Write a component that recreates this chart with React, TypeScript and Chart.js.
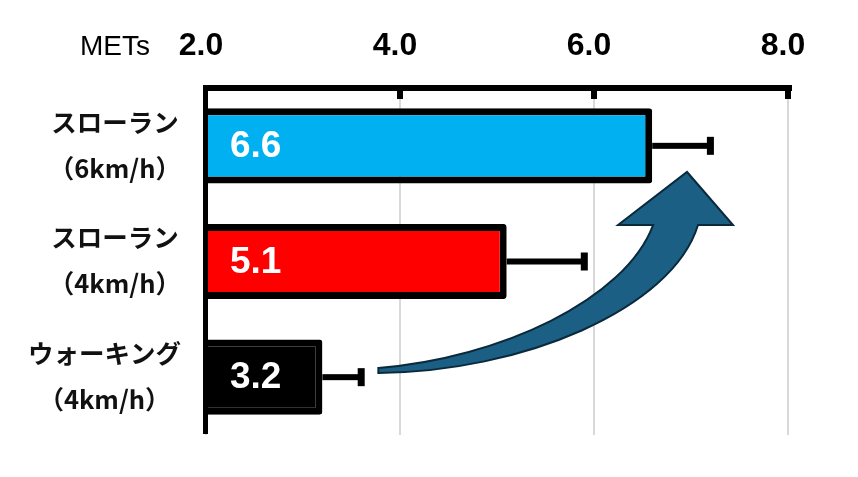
import React, { useEffect, useRef } from "react";
import { Chart, registerables } from "chart.js";

Chart.register(...registerables);

const categoryLines: string[][] = [
  ["スローラン", "（6km/h）"],
  ["スローラン", "（4km/h）"],
  ["ウォーキング", "（4km/h）"],
];
const categories = ["スローラン（6km/h）", "スローラン（4km/h）", "ウォーキング（4km/h）"];
const metsValues = [6.6, 5.1, 3.2];
const errorValues = [0.6, 0.8, 0.4];
const barColors = ["#00B0F0", "#FF0000", "#000000"];
const axisTitle = "METs";
const xMin = 2;
const xMax = 8;
const xStep = 2;

// arrow annotation in data units: [value, category index]
const arrowUpper: number[][] = [
  [3.777, 1.92],
  [5.033, 1.834],
  [6.32, 1.333],
  [6.609, 0.685],
];
const arrowHead: number[][] = [
  [6.248, 0.685],
  [6.959, 0.226],
  [7.433, 0.685],
  [7.072, 0.685],
];
const arrowLower: number[][] = [
  [6.805, 1.419],
  [5.239, 1.955],
  [3.777, 1.964],
];

const LATIN = '"Liberation Sans", Arial, "Noto Sans CJK JP", sans-serif';
const CJK = '"Noto Sans CJK JP", "Liberation Sans", sans-serif';

const decorPlugin = {
  id: "decor",
  afterDatasetsDraw(chart: any) {
    const ctx = chart.ctx;
    const xs = chart.scales.x;
    const ys = chart.scales.y;
    const area = chart.chartArea;
    const meta = chart.getDatasetMeta(0);
    ctx.save();
    // error bars
    meta.data.forEach((bar: any, i: number) => {
      const xEnd = xs.getPixelForValue(metsValues[i] + errorValues[i]);
      ctx.fillStyle = "#000";
      ctx.fillRect(bar.x, bar.y - 3, xEnd - bar.x, 6);
      ctx.fillRect(xEnd - 3.5, bar.y - 9, 7, 18);
    });
    // axes
    ctx.fillStyle = "#000";
    ctx.fillRect(area.left - 3, area.top - 3, area.right - area.left + 7, 6);
    ctx.fillRect(area.left - 3, area.top - 3, 5, area.bottom - area.top + 2);
    xs.ticks.forEach((t: any) => {
      if (t.value === xMin) return;
      const px = xs.getPixelForValue(t.value);
      ctx.fillRect(px - 3, area.top, 6, 11);
    });
    // tick labels
    ctx.font = `bold 32px ${LATIN}`;
    ctx.textAlign = "center";
    ctx.textBaseline = "alphabetic";
    xs.ticks.forEach((t: any) => {
      const px = xs.getPixelForValue(t.value);
      ctx.fillText(Number(t.value).toFixed(1), px - 5, 55);
    });
    ctx.font = `28px ${LATIN}`;
    ctx.textAlign = "left";
    ctx.fillText(axisTitle, 80, 55);
    // category labels
    ctx.font = `bold 25.5px ${CJK}`;
    ctx.fillStyle = "#111";
    ctx.textAlign = "center";
    ctx.textBaseline = "middle";
    categoryLines.forEach((lines, i) => {
      const py = ys.getPixelForValue(i);
      const maxW = Math.max(...lines.map((l) => ctx.measureText(l).width));
      const cx = 181 - maxW / 2;
      ctx.fillText(lines[0], cx, py - 24);
      ctx.fillText(lines[1], cx, py + 22);
    });
    // value labels
    ctx.font = `bold 37px ${LATIN}`;
    ctx.fillStyle = "#fff";
    ctx.textAlign = "left";
    ctx.textBaseline = "middle";
    meta.data.forEach((bar: any, i: number) => {
      ctx.fillText(metsValues[i].toFixed(1), area.left + 24, bar.y + 1);
    });
    // arrow
    const P = (p: number[]) => [xs.getPixelForValue(p[0]), ys.getPixelForValue(p[1])];
    const u = arrowUpper.map(P);
    const h = arrowHead.map(P);
    const l = arrowLower.map(P);
    ctx.beginPath();
    ctx.moveTo(u[0][0], u[0][1]);
    ctx.bezierCurveTo(u[1][0], u[1][1], u[2][0], u[2][1], u[3][0], u[3][1]);
    ctx.lineTo(h[0][0], h[0][1]);
    ctx.lineTo(h[1][0], h[1][1]);
    ctx.lineTo(h[2][0], h[2][1]);
    ctx.lineTo(h[3][0], h[3][1]);
    ctx.bezierCurveTo(l[0][0], l[0][1], l[1][0], l[1][1], l[2][0], l[2][1]);
    ctx.closePath();
    ctx.fillStyle = "#1B5F84";
    ctx.fill();
    ctx.lineWidth = 2;
    ctx.lineJoin = "miter";
    ctx.strokeStyle = "#0A2A3C";
    ctx.stroke();
    ctx.restore();
  },
};

export default function App() {
  const ref = useRef<HTMLCanvasElement>(null);
  useEffect(() => {
    if (!ref.current) return;
    const chart = new Chart(ref.current, {
      type: "bar",
      data: {
        labels: categories,
        datasets: [
          {
            data: metsValues,
            backgroundColor: barColors,
            borderColor: barColors.map(() => "#000"),
            borderWidth: 7,
            borderSkipped: false,
            borderRadius: 3,
            barPercentage: 0.65,
            categoryPercentage: 1,
          },
        ],
      },
      options: {
        indexAxis: "y",
        animation: false,
        responsive: true,
        maintainAspectRatio: false,
        layout: { padding: { left: 0, top: 0, right: 70, bottom: 42 } },
        plugins: { legend: { display: false }, tooltip: { enabled: false } },
        scales: {
          x: {
            position: "top",
            min: xMin,
            max: xMax,
            ticks: { stepSize: xStep, display: false },
            grid: { color: "#d9d9d9", lineWidth: 2, drawTicks: false },
            border: { display: false },
            afterFit: (s: any) => {
              s.height = 88;
            },
          },
          y: {
            ticks: { display: false },
            grid: { display: false },
            border: { display: false },
            afterFit: (s: any) => {
              s.width = 206;
            },
          },
        },
      },
      plugins: [decorPlugin],
    } as any);
    return () => chart.destroy();
  }, []);
  return (
    <div style={{ position: "fixed", left: 0, top: 0, width: 858, height: 477, background: "#fff" }}>
      <canvas ref={ref} />
    </div>
  );
}
